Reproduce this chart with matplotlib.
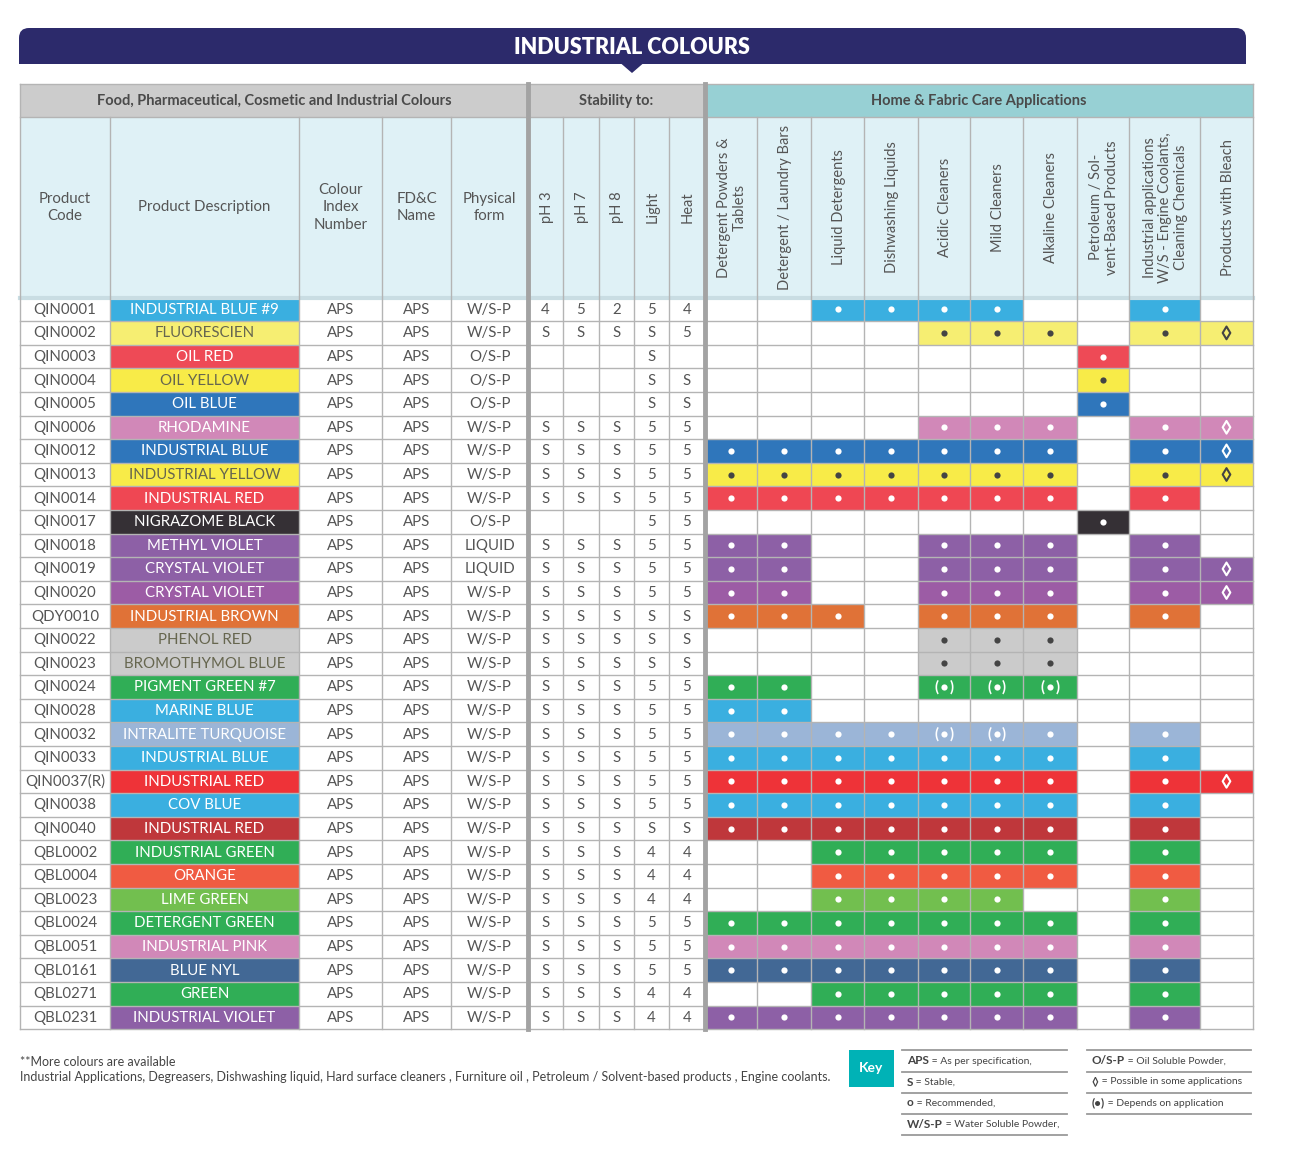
import matplotlib.pyplot as plt
import matplotlib.colors as mcolors
from matplotlib.patches import Rectangle, FancyBboxPatch, Polygon

plt.rcParams["font.family"] = ["Lato", "DejaVu Sans"]

# ---- data ----
codes = ["QIN0001", "QIN0002", "QIN0003", "QIN0004", "QIN0005", "QIN0006",
         "QIN0012", "QIN0013", "QIN0014", "QIN0017", "QIN0018", "QIN0019",
         "QIN0020", "QDY0010", "QIN0022", "QIN0023", "QIN0024", "QIN0028",
         "QIN0032", "QIN0033", "QIN0037(R)", "QIN0038", "QIN0040", "QBL0002",
         "QBL0004", "QBL0023", "QBL0024", "QBL0051", "QBL0161", "QBL0271",
         "QBL0231"]
descriptions = ["INDUSTRIAL BLUE #9", "FLUORESCIEN", "OIL RED", "OIL YELLOW",
                "OIL BLUE", "RHODAMINE", "INDUSTRIAL BLUE", "INDUSTRIAL YELLOW",
                "INDUSTRIAL RED", "NIGRAZOME BLACK", "METHYL VIOLET",
                "CRYSTAL VIOLET", "CRYSTAL VIOLET", "INDUSTRIAL BROWN",
                "PHENOL RED", "BROMOTHYMOL BLUE", "PIGMENT GREEN #7",
                "MARINE BLUE", "INTRALITE TURQUOISE", "INDUSTRIAL BLUE",
                "INDUSTRIAL RED", "COV BLUE", "INDUSTRIAL RED",
                "INDUSTRIAL GREEN", "ORANGE", "LIME GREEN", "DETERGENT GREEN",
                "INDUSTRIAL PINK", "BLUE NYL", "GREEN", "INDUSTRIAL VIOLET"]
swatches = ["#3aafe0", "#f6ee72", "#ee4a56", "#f8eb48", "#2f76bb", "#d188b8",
            "#2f76bb", "#f8eb48", "#ef4753", "#353035", "#8d60a6", "#8d60a6",
            "#9c5ca5", "#e07237", "#cbcbcb", "#cbcbcb", "#30ae56", "#3aafe0",
            "#9bb5d7", "#3aafe0", "#ee3338", "#3aafe0", "#bf373b", "#30ae56",
            "#f05b42", "#72bf4f", "#30ae56", "#d188b8", "#426895", "#30ae56",
            "#8d60a6"]
colour_index = ["APS"] * len(codes)
fdc_name = ["APS"] * len(codes)
physical_form = ["W/S-P", "W/S-P", "O/S-P", "O/S-P", "O/S-P", "W/S-P",
                 "W/S-P", "W/S-P", "W/S-P", "O/S-P", "LIQUID", "LIQUID",
                 "W/S-P", "W/S-P", "W/S-P", "W/S-P", "W/S-P", "W/S-P",
                 "W/S-P", "W/S-P", "W/S-P", "W/S-P", "W/S-P", "W/S-P",
                 "W/S-P", "W/S-P", "W/S-P", "W/S-P", "W/S-P", "W/S-P",
                 "W/S-P"]
ph3 = ["4", "S", "", "", "", "S", "S", "S", "S", "", "S", "S", "S", "S", "S",
       "S", "S", "S", "S", "S", "S", "S", "S", "S", "S", "S", "S", "S", "S",
       "S", "S"]
ph7 = ["5", "S", "", "", "", "S", "S", "S", "S", "", "S", "S", "S", "S", "S",
       "S", "S", "S", "S", "S", "S", "S", "S", "S", "S", "S", "S", "S", "S",
       "S", "S"]
ph8 = ["2", "S", "", "", "", "S", "S", "S", "S", "", "S", "S", "S", "S", "S",
       "S", "S", "S", "S", "S", "S", "S", "S", "S", "S", "S", "S", "S", "S",
       "S", "S"]
light = ["5", "S", "S", "S", "S", "5", "5", "5", "5", "5", "5", "5", "5", "S",
         "S", "S", "5", "5", "5", "5", "5", "5", "S", "4", "4", "4", "5", "5",
         "5", "4", "4"]
heat = ["4", "5", "", "S", "S", "5", "5", "5", "5", "5", "5", "5", "5", "S",
        "S", "S", "5", "5", "5", "5", "5", "5", "S", "4", "4", "4", "5", "5",
        "5", "4", "4"]
# one char per application column: "." recommended, "d" depends on
# application, "p" possible in some applications, "-" not listed
applications = ["--....--.-", "----...-.p", "-------.--", "-------.--",
                "-------.--", "----...-.p", ".......-.p", ".......-.p",
                ".......-.-", "-------.--", "..--...-.-", "..--...-.p",
                "..--...-.p", "...-...-.-", "----...---", "----...---",
                "..--ddd---", "..--------", "....dd.-.-", ".......-.-",
                ".......-.p", ".......-.-", ".......-.-", "--.....-.-",
                "--.....-.-", "--....--.-", ".......-.-", ".......-.-",
                ".......-.-", "--.....-.-", ".......-.-"]

info_headers = ["Product\nCode", "Product Description", "Colour\nIndex\nNumber",
                "FD&C\nName", "Physical\nform"]
stability_headers = ["pH 3", "pH 7", "pH 8", "Light", "Heat"]
app_headers = ["Detergent Powders &\nTablets", "Detergent / Laundry Bars",
               "Liquid Detergents", "Dishwashing Liquids", "Acidic Cleaners",
               "Mild Cleaners", "Alkaline Cleaners",
               "Petroleum / Sol-\nvent-Based Products",
               "Industrial applications\nW/S - Engine Coolants,\nCleaning Chemicals",
               "Products with Bleach"]
group_headers = ["Food, Pharmaceutical, Cosmetic and Industrial Colours",
                 "Stability to:", "Home & Fabric Care Applications"]
key_left = [("APS", " = As per specification,"), ("S", " = Stable,"),
            ("o", " = Recommended,"), ("W/S-P", " = Water Soluble Powder,")]
key_right = [("O/S-P", " = Oil Soluble Powder,"),
             ("\u25ca", " = Possible in some applications"),
             ("(\u2022)", " = Depends on application")]
notes = ["**More colours are available",
         "Industrial Applications, Degreasers, Dishwashing liquid, Hard surface "
         "cleaners , Furniture oil , Petroleum / Solvent-based products , "
         "Engine coolants."]

# ---- layout ----
NAVY = "#2c2a6b"
GRID = "#b4b4b4"
TXT = "#555555"
x_edges = [20, 110, 299, 382, 451, 528, 563, 599, 634, 669, 705, 757, 811,
           864, 918, 970, 1023, 1077, 1129, 1200, 1253]
g_top, h_top, d_top = 84, 117, 297.5
row_h = 23.6
n = len(codes)
d_bot = d_top + n * row_h

fig = plt.figure(figsize=(12.9, 11.65), dpi=100)
ax = fig.add_axes([0, 0, 1, 1])
ax.set_xlim(0, 1290)
ax.set_ylim(1165, 0)
ax.axis("off")

# title banner
ax.add_patch(FancyBboxPatch((29, 38), 1207, 16, boxstyle="round,pad=10",
                            fc=NAVY, ec="none"))
ax.add_patch(Rectangle((19, 48), 1227, 16, fc=NAVY, ec="none"))
ax.add_patch(Polygon([(621, 63.5), (643, 63.5), (632, 73)], fc=NAVY, ec="none"))
ax.text(632, 48, "INDUSTRIAL COLOURS", color="white", fontsize=15.5,
        fontweight="heavy", ha="center", va="center")

# header backgrounds
ax.add_patch(Rectangle((x_edges[0], g_top), x_edges[10] - x_edges[0],
                       h_top - g_top, fc="#cccccc", ec="none"))
ax.add_patch(Rectangle((x_edges[10], g_top), x_edges[-1] - x_edges[10],
                       h_top - g_top, fc="#97d0d4", ec="none"))
ax.add_patch(Rectangle((x_edges[0], h_top), x_edges[-1] - x_edges[0],
                       d_top - h_top, fc="#dff1f6", ec="none"))
group_spans = [(0, 5), (5, 10), (10, 20)]
for (a, b), label in zip(group_spans, group_headers):
    ax.text((x_edges[a] + x_edges[b]) / 2, (g_top + h_top) / 2 + 0.5, label,
            fontsize=10.5, fontweight="bold", color="#4a4a4a",
            ha="center", va="center")

h_mid = (h_top + d_top) / 2
for j, label in enumerate(info_headers):
    ax.text((x_edges[j] + x_edges[j + 1]) / 2, h_mid, label, fontsize=10.8,
            color=TXT, ha="center", va="center", linespacing=1.3)
for j, label in enumerate(stability_headers + app_headers):
    ax.text((x_edges[j + 5] + x_edges[j + 6]) / 2 + 1, h_mid, label,
            fontsize=10.5, color=TXT, rotation=90,
            ha="center", va="center", multialignment="center",
            linespacing=1.12)


def luminance(c):
    r, g, b = mcolors.to_rgb(c)
    return 0.2126 * r + 0.7152 * g + 0.0722 * b


# data rows
for i in range(n):
    top = d_top + i * row_h
    yc = top + row_h / 2 + 0.5
    fill = swatches[i]
    dark = luminance(fill) > 0.78
    mark_c = "#444444" if dark else "white"

    ax.add_patch(Rectangle((x_edges[1], top), x_edges[2] - x_edges[1], row_h,
                           fc=fill, ec="none"))
    ax.text((x_edges[1] + x_edges[2]) / 2, yc, descriptions[i], fontsize=10.8,
            color="#66664f" if dark else "white", ha="center", va="center")

    values = [codes[i], None, colour_index[i], fdc_name[i], physical_form[i],
              ph3[i], ph7[i], ph8[i], light[i], heat[i]]
    for j, v in enumerate(values):
        if v:
            ax.text((x_edges[j] + x_edges[j + 1]) / 2, yc, v, fontsize=10.8,
                    color=TXT, ha="center", va="center")

    for k, sym in enumerate(applications[i]):
        if sym == "-":
            continue
        x0, x1 = x_edges[10 + k], x_edges[11 + k]
        xc = (x0 + x1) / 2
        ax.add_patch(Rectangle((x0, top), x1 - x0, row_h, fc=fill, ec="none"))
        if sym in ".d":
            ax.scatter([xc], [yc - 0.5], s=20, color=mark_c, zorder=5,
                       linewidths=0)
        if sym == "d":
            ax.text(xc - 7.5, yc - 0.5, "(", fontsize=10.5, fontweight="bold",
                    color=mark_c, ha="center", va="center")
            ax.text(xc + 7.5, yc - 0.5, ")", fontsize=10.5, fontweight="bold",
                    color=mark_c, ha="center", va="center")
        if sym == "p":
            ax.scatter([xc], [yc - 0.5], s=42, marker="d", facecolor="none",
                       edgecolor=mark_c, linewidths=1.5, zorder=5)

# grid
for k in range(n + 1):
    y = d_top + k * row_h
    ax.plot([x_edges[0], x_edges[-1]], [y, y], color=GRID, lw=1, zorder=3)
ax.plot([x_edges[0], x_edges[-1]], [d_top, d_top], color="#c9dde3", lw=3,
        zorder=3)
ax.plot([x_edges[0], x_edges[-1]], [g_top, g_top], color=GRID, lw=1, zorder=3)
ax.plot([x_edges[0], x_edges[-1]], [h_top, h_top], color=GRID, lw=1, zorder=3)
for j, x in enumerate(x_edges):
    if j in (5, 10):
        ax.plot([x, x], [g_top, d_bot], color="#a3a3a3", lw=3.5, zorder=4)
    elif j in (0, len(x_edges) - 1):
        ax.plot([x, x], [g_top, d_bot], color=GRID, lw=1, zorder=4)
    else:
        ax.plot([x, x], [h_top, d_bot], color=GRID, lw=1, zorder=3)

# notes
ax.text(20, 1062, notes[0], fontsize=9, color="#444444", ha="left",
        va="center")
ax.text(20, 1077, notes[1], fontsize=9, color="#444444", ha="left",
        va="center")

# key
ax.add_patch(Rectangle((849, 1050), 45, 37, fc="#00b2b6", ec="none"))
ax.text(871.5, 1068.5, "Key", fontsize=10, fontweight="bold", color="white",
        ha="center", va="center")

fig.canvas.draw()
renderer = fig.canvas.get_renderer()


def key_column(entries, x0, x1):
    ax.plot([x0, x1], [1050, 1050], color="#9a9a9a", lw=1.3)
    for r, (bold, rest) in enumerate(entries):
        y = 1061 + r * 21
        t = ax.text(x0 + 5, y, bold, fontsize=8.5, fontweight="bold",
                    color="#444444", ha="left", va="center")
        w = t.get_window_extent(renderer).width
        ax.text(x0 + 5 + w, y, rest, fontsize=7.5, color="#444444",
                ha="left", va="center")
        ax.plot([x0, x1], [y + 10.5, y + 10.5], color="#9a9a9a", lw=1.3)


key_column(key_left, 902, 1067)
key_column(key_right, 1087, 1251)

fig.savefig("out.png", dpi=100)
plt.close(fig)
